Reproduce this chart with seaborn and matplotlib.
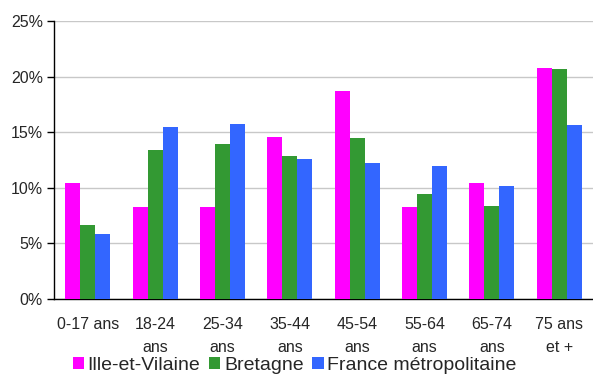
import numpy as np
import pandas as pd
import seaborn as sns
import matplotlib.pyplot as plt
from matplotlib.ticker import FuncFormatter, FixedLocator

# categories and values (in %)
categories = ['0-17 ans', '18-24\nans', '25-34\nans', '35-44\nans', '45-54\nans',
              '55-64\nans', '65-74\nans', '75 ans\net +']
ille = [10.45, 8.3, 8.3, 14.6, 18.7, 8.3, 10.45, 20.8]
bretagne = [6.65, 13.4, 13.95, 12.9, 14.5, 9.45, 8.4, 20.7]
france = [5.85, 15.5, 15.75, 12.6, 12.25, 11.95, 10.15, 15.65]
series = ['Ille-et-Vilaine', 'Bretagne', 'France métropolitaine']
colors = ['#FF00FF', '#339933', '#3366FF']

df = pd.DataFrame({
    'cat': categories * 3,
    'val': ille + bretagne + france,
    'zone': [series[0]] * 8 + [series[1]] * 8 + [series[2]] * 8,
})

sns.set_style('white')
plt.rcParams['font.family'] = ['Liberation Sans', 'DejaVu Sans']

fig = plt.figure(figsize=(5.93, 3.76), dpi=100)
ax = fig.add_axes([54 / 593, 1 - 299 / 376, 539 / 593, 278 / 376])

sns.barplot(data=df, x='cat', y='val', hue='zone', palette=colors,
            width=0.667, saturation=1, ax=ax, legend=True, zorder=3,
            linewidth=0, edgecolor='none')

ax.set_ylim(0, 25)
ax.set_xlim(-0.5, 7.5)
ax.set_yticks([0, 5, 10, 15, 20, 25])
ax.yaxis.set_major_formatter(FuncFormatter(lambda v, p: '%d%%' % v))
ax.yaxis.grid(True, color='#C8C8C8', linewidth=1, zorder=0)
ax.set_axisbelow(True)

# category boundaries as tick marks, labels at centers
ax.xaxis.set_minor_locator(FixedLocator(np.arange(-0.5, 8, 1)))
ax.tick_params(axis='x', which='major', length=0, pad=13, labelsize=11.5)
ax.tick_params(axis='x', which='minor', length=5, width=1, color='black', direction='out')
ax.tick_params(axis='y', which='major', length=5, width=1, color='black', direction='out',
               left=True, labelsize=11.5, pad=3)
for lbl in ax.get_xticklabels():
    lbl.set_linespacing(1.7)

for s in ['top', 'right']:
    ax.spines[s].set_visible(False)
for s in ['left', 'bottom']:
    ax.spines[s].set_color('black')
    ax.spines[s].set_linewidth(1)

ax.set_xlabel('')
ax.set_ylabel('')

handles, labels = ax.get_legend_handles_labels()
ax.legend_.remove()
fig.legend(handles, labels, loc='center', bbox_to_anchor=(0.497, 1 - 365 / 376), ncol=3,
           frameon=False, fontsize=14, handlelength=0.57, handleheight=0.57,
           handletextpad=0.2, columnspacing=0.45, borderaxespad=0, borderpad=0)

fig.savefig('out.png', dpi=100)
